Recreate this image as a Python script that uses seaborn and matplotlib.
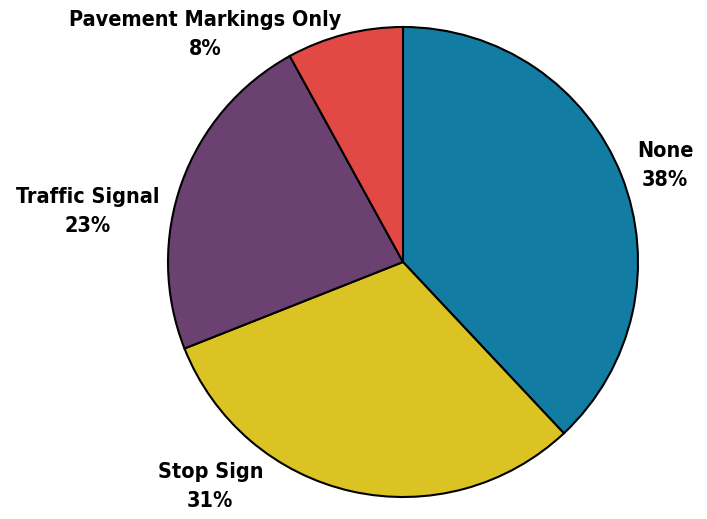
import matplotlib
matplotlib.use("Agg")
import matplotlib.pyplot as plt
from matplotlib import font_manager as fm
import seaborn as sns

sns.set_theme(style="white")
plt.rcParams["font.family"] = ["DejaVu Sans"]

categories = ["None", "Stop Sign", "Traffic Signal", "Pavement Markings Only"]
shares = [38, 31, 23, 8]
colors = ["#137CA3", "#DBC324", "#6A4170", "#E34944"]

# label anchor points in axes data units (pie radius = 1)
label_xy = [(1.115, 0.41), (-0.82, -0.957), (-1.34, 0.215), (-0.843, 0.968)]


def narrow_bold_font(size):
    """Prefer a narrow/condensed bold face for the labels."""
    files = [f.fname for f in fm.fontManager.ttflist]
    for key in ("LiberationSansNarrow-Bold", "DejaVuSansCondensed-Bold"):
        for path in files:
            if key in path:
                return fm.FontProperties(fname=path, size=size)
    return fm.FontProperties(family="DejaVu Sans", weight="bold",
                             stretch="condensed", size=size)


label_font = narrow_bold_font(15.5)

fig = plt.figure(figsize=(7.07, 5.19), dpi=100)
ax = fig.add_axes([168 / 707, 22 / 519, 470 / 707, 470 / 519])

ax.pie(
    shares,
    colors=colors,
    startangle=90,
    counterclock=False,
    radius=1,
    wedgeprops=dict(edgecolor="black", linewidth=1.5),
)
ax.set_xlim(-1, 1)
ax.set_ylim(-1, 1)
ax.set_aspect("equal")
ax.axis("off")

for name, val, (x, y) in zip(categories, shares, label_xy):
    ax.text(x, y, f"{name}\n{val}%", ha="center", va="center",
            fontproperties=label_font, linespacing=1.55,
            color="black", clip_on=False)

fig.savefig("out.png", dpi=100)
